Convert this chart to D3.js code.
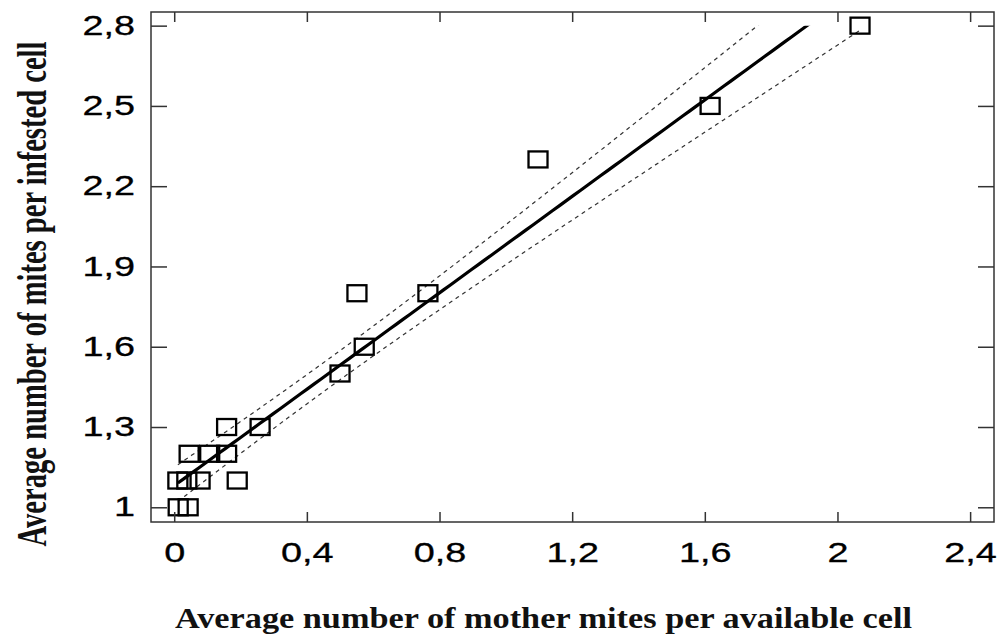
<!DOCTYPE html>
<html>
<head>
<meta charset="utf-8">
<script src="https://cdn.jsdelivr.net/npm/d3@7"></script>
<style>
  body { margin: 0; background: #fff; }
  svg { display: block; }
</style>
</head>
<body>
<svg id="chart" width="1004" height="637"></svg>
<script>

// data
var motherMites = [2.068, 1.616, 1.097, 0.551, 0.765, 0.573, 0.500, 0.259, 0.158,
                   0.045, 0.107, 0.158, 0.011, 0.038, 0.078, 0.190, 0.012, 0.042];
var mitesPerCell = [2.8, 2.5, 2.3, 1.8, 1.8, 1.6, 1.5, 1.3, 1.3,
                    1.2, 1.2, 1.2, 1.1, 1.1, 1.1, 1.1, 1.0, 1.0];
var xTicks = [0, 0.4, 0.8, 1.2, 1.6, 2, 2.4];
var yTicks = [1, 1.3, 1.6, 1.9, 2.2, 2.5, 2.8];

var svg = d3.select("#chart");
var frameL = 151, frameT = 12, frameR = 994, frameB = 522;

var x = d3.scaleLinear().domain([-0.07, 2.472]).range([frameL, frameR]);
var y = d3.scaleLinear().domain([0.945, 2.851]).range([frameB, frameT]);

var comma = function(d) { return String(d).replace(".", ","); };

// linear fit with 95% confidence band
var n = motherMites.length;
var mx = d3.mean(motherMites), my = d3.mean(mitesPerCell);
var sxx = d3.sum(motherMites, function(v) { return (v - mx) * (v - mx); });
var sxy = d3.sum(motherMites, function(v, i) { return (v - mx) * (mitesPerCell[i] - my); });
var slope = sxy / sxx, icpt = my - slope * mx;
var sse = d3.sum(motherMites, function(v, i) { var r = mitesPerCell[i] - (icpt + slope * v); return r * r; });
var se = Math.sqrt(sse / (n - 2));
var tval = 2.12;

var xs = d3.range(0, 101).map(function(i) {
  return d3.min(motherMites) + i / 100 * (d3.max(motherMites) - d3.min(motherMites));
});
var fit = xs.map(function(v) {
  var hw = tval * se * Math.sqrt(1 / n + (v - mx) * (v - mx) / sxx);
  var p = icpt + slope * v;
  return { x: v, y: p, lo: p - hw, hi: p + hw };
});

svg.append("clipPath").attr("id", "clip")
  .append("rect")
  .attr("x", frameL).attr("y", y(2.8))
  .attr("width", frameR - frameL).attr("height", frameB - y(2.8));

var plot = svg.append("g").attr("clip-path", "url(#clip)");

["lo", "hi"].forEach(function(k) {
  plot.append("path")
    .datum(fit)
    .attr("fill", "none")
    .attr("stroke", "#333")
    .attr("stroke-width", 1.2)
    .attr("stroke-dasharray", "4,4")
    .attr("d", d3.line().x(function(d) { return x(d.x); }).y(function(d) { return y(d[k]); }));
});

plot.append("path")
  .datum(fit)
  .attr("fill", "none")
  .attr("stroke", "#000")
  .attr("stroke-width", 3.2)
  .attr("d", d3.line().x(function(d) { return x(d.x); }).y(function(d) { return y(d.y); }));

svg.append("g")
  .selectAll("rect")
  .data(motherMites)
  .enter()
  .append("rect")
  .attr("x", function(d) { return x(d) - 9.5; })
  .attr("y", function(d, i) { return y(mitesPerCell[i]) - 8; })
  .attr("width", 19)
  .attr("height", 16)
  .attr("fill", "none")
  .attr("stroke", "#000")
  .attr("stroke-width", 2.3);

// axes, ticks on all four sides pointing inward
var axes = [
  svg.append("g").attr("transform", "translate(0," + frameB + ")")
    .call(d3.axisBottom(x).tickValues(xTicks).tickSize(-10).tickPadding(21).tickFormat(comma)),
  svg.append("g").attr("transform", "translate(" + frameL + ",0)")
    .call(d3.axisLeft(y).tickValues(yTicks).tickSize(-16).tickPadding(16).tickFormat(comma)),
  svg.append("g").attr("transform", "translate(0," + frameT + ")")
    .call(d3.axisTop(x).tickValues(xTicks).tickSize(-10).tickFormat("")),
  svg.append("g").attr("transform", "translate(" + frameR + ",0)")
    .call(d3.axisRight(y).tickValues(yTicks).tickSize(-16).tickFormat(""))
];

axes.forEach(function(g) {
  g.select(".domain").remove();
  g.selectAll(".tick line").attr("stroke", "#333").attr("stroke-width", 1.5);
  g.selectAll(".tick text")
    .attr("font-family", "Liberation Sans, Arial, sans-serif")
    .attr("font-size", 27)
    .attr("fill", "#000")
    .attr("stroke", "#000")
    .attr("stroke-width", 0.3)
    .each(function() {
      var w = this.getComputedTextLength();
      if (w > 0) d3.select(this).attr("textLength", w * 1.4).attr("lengthAdjust", "spacingAndGlyphs");
    });
});

svg.append("rect")
  .attr("x", frameL).attr("y", frameT)
  .attr("width", frameR - frameL).attr("height", frameB - frameT)
  .attr("fill", "none")
  .attr("stroke", "#333")
  .attr("stroke-width", 1.5);

svg.append("text")
  .attr("x", 543.5)
  .attr("y", 628)
  .attr("text-anchor", "middle")
  .attr("font-family", "Liberation Serif, Times New Roman, serif")
  .attr("font-weight", "bold")
  .attr("font-size", 30)
  .attr("fill", "#111")
  .attr("textLength", 737)
  .attr("lengthAdjust", "spacingAndGlyphs")
  .text("Average number of mother mites per available cell");

svg.append("text")
  .attr("transform", "translate(46,294) rotate(-90)")
  .attr("text-anchor", "middle")
  .attr("font-family", "Liberation Serif, Times New Roman, serif")
  .attr("font-weight", "bold")
  .attr("font-size", 43)
  .attr("fill", "#111")
  .attr("textLength", 505)
  .attr("lengthAdjust", "spacingAndGlyphs")
  .text("Average number of mites per infested cell");

</script>
</body>
</html>
